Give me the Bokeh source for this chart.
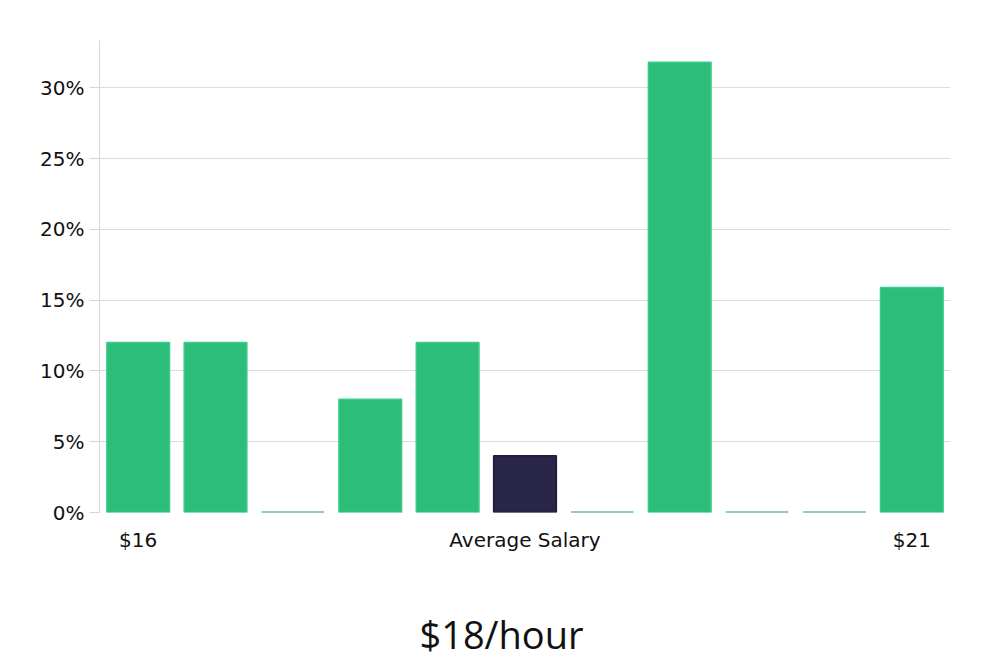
from bokeh.plotting import figure
from bokeh.layouts import column
from bokeh.models import ColumnDataSource, FixedTicker, PrintfTickFormatter, Range1d, Label
from bokeh.embed import file_html
from bokeh.resources import INLINE

# Data
bins = list(range(11))
percent = [12, 12, 0, 8, 12, 4, 0, 31.8, 0, 0, 15.9]
is_avg = [False, False, False, False, False, True, False, False, False, False, False]
x_tick_pos = [0, 5, 10]
x_tick_labels = ["$16", "Average Salary", "$21"]
y_ticks = [0, 5, 10, 15, 20, 25, 30]
title_text = "$18/hour"

fills = ["#2a2649" if a else "#2cbe78" for a in is_avg]
lines = []
widths = []
for a, v in zip(is_avg, percent):
    if a:
        lines.append("#1e1a3e"); widths.append(1.5)
    elif v == 0:
        lines.append("#2a9e6e"); widths.append(2)
    else:
        lines.append("#3ccb88"); widths.append(1.5)
src = ColumnDataSource(dict(x=bins, top=percent, fill=fills, line=lines, lw=widths))

p = figure(width=1000, height=560, output_backend="svg", toolbar_location=None,
           x_range=Range1d(-0.5, 10.5), y_range=Range1d(0, 33.34),
           min_border_left=99, min_border_right=50, min_border_top=40, min_border_bottom=48)
p.outline_line_color = None
p.background_fill_color = "white"
p.border_fill_color = "white"

p.vbar(x="x", top="top", bottom=0, width=0.81, source=src,
       fill_color="fill", line_color="line", line_width="lw")

# y axis
p.yaxis.ticker = FixedTicker(ticks=y_ticks)
p.yaxis.formatter = PrintfTickFormatter(format="%d%%")
p.yaxis.axis_line_color = "#d4d4d4"
p.yaxis.major_tick_line_color = "#d4d4d4"
p.yaxis.major_tick_out = 10
p.yaxis.major_tick_in = 0
p.yaxis.minor_tick_line_color = None
p.yaxis.major_label_standoff = 5
p.yaxis.major_label_text_font = "DejaVu Sans"
p.yaxis.major_label_text_font_size = "20px"
p.yaxis.major_label_text_color = "#111111"

# x axis
p.xaxis.ticker = FixedTicker(ticks=x_tick_pos)
p.xaxis.major_label_overrides = {t: l for t, l in zip(x_tick_pos, x_tick_labels)}
p.xaxis.axis_line_color = None
p.xaxis.major_tick_line_color = None
p.xaxis.minor_tick_line_color = None
p.xaxis.major_tick_out = 0
p.xaxis.major_tick_in = 0
p.xaxis.major_label_standoff = 15
p.xaxis.major_label_text_font = "DejaVu Sans"
p.xaxis.major_label_text_font_size = "20px"
p.xaxis.major_label_text_color = "#111111"

p.xgrid.grid_line_color = None
p.ygrid.ticker = FixedTicker(ticks=y_ticks)
p.ygrid.grid_line_color = "#dcdcdc"

# Title strip below the chart (its frame is aligned with the chart frame)
p2 = figure(width=1000, height=100, output_backend="svg", toolbar_location=None,
            x_axis_location=None, y_axis_location=None,
            x_range=Range1d(0, 1), y_range=Range1d(0, 1),
            min_border=0, min_border_left=0, min_border_right=0,
            min_border_top=0, min_border_bottom=0)
p2.outline_line_color = None
p2.xgrid.grid_line_color = None
p2.ygrid.grid_line_color = None
p2.background_fill_color = "white"
p2.border_fill_color = "white"
title = Label(x=402, y=27, x_units="screen", y_units="screen", text=title_text,
              text_align="center", text_baseline="middle", text_font="Open Sans",
              text_font_size="38px", text_color="#111111")
p2.add_layout(title)

layout = column(p, p2, spacing=0)
open("out.html", "w").write(file_html(layout, INLINE))
